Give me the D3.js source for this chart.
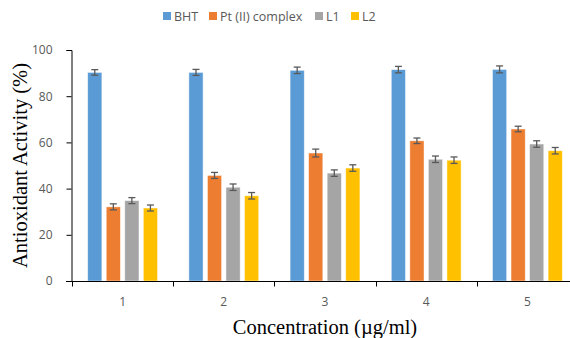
<!DOCTYPE html>
<html lang="en">
<head>
<meta charset="UTF-8">
<title>Antioxidant Activity</title>
<script src="https://d3js.org/d3.v7.min.js"></script>
<style>
  body { margin: 0; background: #fff; }
  svg { display: block; }
</style>
</head>
<body>
<div id="chart"></div>
<script>
// data
const concentrations = ["1", "2", "3", "4", "5"];
const seriesNames = ["BHT", "Pt (II) complex", "L1", "L2"];
const seriesColors = ["#5B9BD5", "#ED7D31", "#A5A5A5", "#FFC000"];
const bhtValues = [90.3, 90.3, 91.2, 91.5, 91.6];
const ptValues = [32.1, 45.7, 55.4, 60.7, 65.8];
const l1Values = [34.8, 40.6, 46.7, 52.7, 59.3];
const l2Values = [31.6, 36.9, 48.9, 52.3, 56.4];
const bhtErrors = [1.2, 1.3, 1.4, 1.4, 1.5];
const ptErrors = [1.3, 1.3, 1.7, 1.2, 1.2];
const l1Errors = [1.3, 1.4, 1.4, 1.4, 1.4];
const l2Errors = [1.3, 1.4, 1.4, 1.4, 1.4];
const yTicks = [0, 20, 40, 60, 80, 100];

const values = [bhtValues, ptValues, l1Values, l2Values];
const errors = [bhtErrors, ptErrors, l1Errors, l2Errors];

const width = 570, height = 338;
const margin = { top: 50, right: -8, bottom: 57, left: 72 };

const svg = d3.select("#chart").append("svg")
    .attr("width", width)
    .attr("height", height);

const x = d3.scaleBand()
    .domain(concentrations)
    .range([margin.left, width - margin.right])
    .paddingInner(0.31)
    .paddingOuter(0.155);

const xSeries = d3.scaleBand()
    .domain(d3.range(seriesNames.length))
    .range([0, x.bandwidth()])
    .paddingInner(0.235);

const y = d3.scaleLinear()
    .domain([0, 100])
    .range([height - margin.bottom, margin.top]);

const grey = "#595959";
const sans = "'Open Sans', 'Liberation Sans', sans-serif";
const serif = "'Liberation Serif', 'Times New Roman', serif";

// bars
const rows = [];
concentrations.forEach((c, i) => {
    seriesNames.forEach((s, j) => {
        rows.push({ c, j, v: values[j][i], e: errors[j][i] });
    });
});

svg.append("g").selectAll("rect")
    .data(rows)
    .join("rect")
    .attr("x", d => x(d.c) + xSeries(d.j))
    .attr("y", d => y(d.v))
    .attr("width", xSeries.bandwidth())
    .attr("height", d => y(0) - y(d.v))
    .attr("fill", d => seriesColors[d.j])
    .attr("stroke", "#fff")
    .attr("stroke-opacity", 0.6)
    .attr("stroke-width", 0.75);

// error bars
const eb = svg.append("g")
    .attr("stroke", grey)
    .attr("stroke-width", 1.3)
    .selectAll("g")
    .data(rows)
    .join("g")
    .attr("transform", d => `translate(${x(d.c) + xSeries(d.j) + xSeries.bandwidth() / 2},0)`);
eb.append("line")
    .attr("y1", d => y(d.v + d.e)).attr("y2", d => y(d.v - d.e));
eb.append("line")
    .attr("x1", -3.5).attr("x2", 3.5)
    .attr("y1", d => y(d.v + d.e)).attr("y2", d => y(d.v + d.e));
eb.append("line")
    .attr("x1", -3.5).attr("x2", 3.5)
    .attr("y1", d => y(d.v - d.e)).attr("y2", d => y(d.v - d.e));

// y axis
const yAxis = svg.append("g")
    .attr("transform", `translate(${margin.left - 0.5},0)`)
    .call(d3.axisLeft(y).tickValues(yTicks).tickSize(5).tickSizeOuter(5));
yAxis.select(".domain").attr("stroke", "#000");
yAxis.selectAll(".tick line").attr("stroke", "#000");
yAxis.selectAll(".tick text")
    .attr("x", -19)
    .attr("fill", grey)
    .style("font-family", sans)
    .style("font-size", "12px");

// x axis
const y0 = y(0) + 0.5;
svg.append("line")
    .attr("x1", margin.left - 6).attr("x2", width)
    .attr("y1", y0).attr("y2", y0)
    .attr("stroke", "#000").attr("stroke-width", 1);
const bounds = concentrations.map(c => x(c) - x.step() * x.paddingInner() / 2);
svg.append("g").selectAll("line")
    .data(bounds)
    .join("line")
    .attr("x1", d => Math.round(d) + 0.5).attr("x2", d => Math.round(d) + 0.5)
    .attr("y1", y0).attr("y2", y0 + 5)
    .attr("stroke", "#000");
svg.append("g").selectAll("text")
    .data(concentrations)
    .join("text")
    .attr("x", d => x(d) + x.bandwidth() / 2)
    .attr("y", y0 + 24)
    .attr("text-anchor", "middle")
    .attr("fill", grey)
    .style("font-family", sans)
    .style("font-size", "12px")
    .text(d => d);

// axis titles
svg.append("text")
    .attr("x", 325)
    .attr("y", 334)
    .attr("text-anchor", "middle")
    .style("font-family", serif)
    .style("font-size", "20.5px")
    .text("Concentration (\u00b5g/ml)");

svg.append("text")
    .attr("transform", `translate(27,${(y(0) + y(100)) / 2}) rotate(-90)`)
    .attr("text-anchor", "middle")
    .style("font-family", serif)
    .style("font-size", "20.5px")
    .text("Antioxidant Activity (%)");

// legend
const legendX = [163, 209, 315, 351];
const legend = svg.append("g").selectAll("g")
    .data(seriesNames)
    .join("g")
    .attr("transform", (d, i) => `translate(${legendX[i]},12)`);
legend.append("rect")
    .attr("width", 8).attr("height", 8)
    .attr("fill", (d, i) => seriesColors[i]);
legend.append("text")
    .attr("x", 11)
    .attr("y", 8.5)
    .attr("fill", grey)
    .style("font-family", sans)
    .style("font-size", "12.5px")
    .text(d => d);
</script>
</body>
</html>
